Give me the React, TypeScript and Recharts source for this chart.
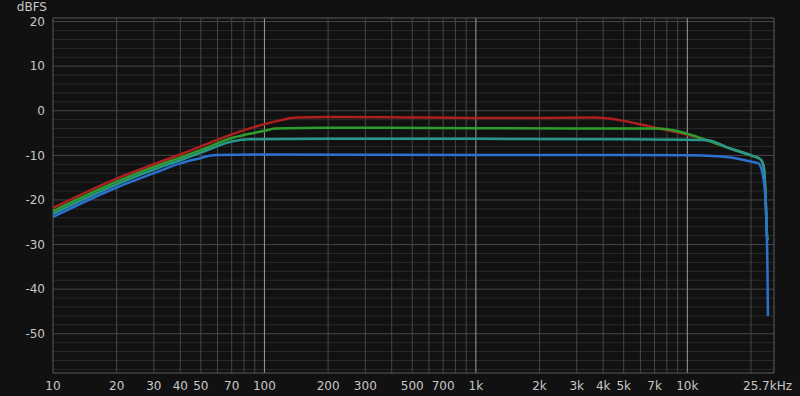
import { CartesianGrid, Line, LineChart, XAxis, YAxis } from "recharts";

// frequency (Hz) / level (dBFS) per channel
const redFreq = [10, 20, 30, 40, 50, 70, 100, 120, 142, 200, 500, 1000, 2000, 3670, 7200, 12400, 16000, 20000, 22200, 23000, 23400, 23850, 24000];
const redDb = [-21.8, -15.2, -12.0, -9.8, -8.0, -5.3, -3.0, -2.1, -1.5, -1.4, -1.5, -1.6, -1.6, -1.5, -3.9, -6.6, -8.5, -10.0, -10.9, -12.7, -18.0, -28.5, -29.0];

const greenFreq = [10, 20, 30, 40, 50, 70, 100, 112, 200, 1000, 3000, 7200, 12400, 16000, 20000, 22200, 23000, 23400, 23850, 24000];
const greenDb = [-22.5, -15.9, -12.6, -10.5, -8.8, -6.1, -4.5, -4.0, -3.8, -3.9, -4.0, -4.0, -6.6, -8.5, -10.0, -10.9, -12.7, -18.0, -28.5, -29.0];

const tealFreq = [10, 20, 30, 40, 50, 70, 85, 200, 1000, 5000, 12400, 16000, 20000, 22200, 23000, 23400, 23850, 24000];
const tealDb = [-23.1, -16.5, -13.2, -11.1, -9.4, -6.9, -6.4, -6.3, -6.3, -6.4, -6.6, -8.5, -10.0, -10.9, -12.7, -18.0, -28.5, -29.0];

const blueFreq = [10, 20, 30, 40, 50, 55, 60, 100, 1000, 5000, 10400, 16000, 20000, 21700, 23000, 23700, 23950, 24050];
const blueDb = [-23.8, -17.2, -14.0, -11.8, -10.6, -10.1, -9.9, -9.8, -9.9, -9.9, -10.0, -10.5, -11.4, -11.8, -15.7, -25.5, -36.7, -46.0];

const xTicks = [10, 20, 30, 40, 50, 70, 100, 200, 300, 500, 700, 1000, 2000, 3000, 4000, 5000, 7000, 10000, 25700];
const yTicks = [20, 10, 0, -10, -20, -30, -40, -50];

const xMinorGrid = [20, 30, 40, 50, 60, 70, 80, 90, 200, 300, 400, 500, 600, 700, 800, 900, 2000, 3000, 4000, 5000, 6000, 7000, 8000, 9000, 20000];
const xMajorGrid = [100, 1000, 10000];
const yMinorGrid = [-58, -56, -54, -52, -48, -46, -44, -42, -38, -36, -34, -32, -28, -26, -24, -22, -18, -16, -14, -12, -8, -6, -4, -2, 2, 4, 6, 8, 12, 14, 16, 18];
const yMajorGrid = [-50, -40, -30, -20, -10, 0, 10, 20];

const X_MIN = 10;
const X_MAX = 25700;
const Y_MIN = -58.8;
const Y_MAX = 20.8;

const toPoints = (freq: number[], db: number[]) => freq.map((f, i) => ({ f, db: db[i] }));

const fmtFreq = (v: number) => {
  if (v === 25700) return "25.7kHz";
  if (v >= 1000) return `${v / 1000}k`;
  return String(v);
};

function FreqTick(props: any) {
  const { x, y, payload } = props;
  const last = payload.value === 25700;
  return (
    <text
      x={last ? x + 18 : x}
      y={y}
      dy="0.71em"
      textAnchor={last ? "end" : "middle"}
      fill="#c8c8c8"
      fontSize={12}
    >
      {fmtFreq(payload.value)}
    </text>
  );
}

const series = [
  { name: "red", color: "#ae1f1f", data: toPoints(redFreq, redDb) },
  { name: "green", color: "#2e9c2e", data: toPoints(greenFreq, greenDb) },
  { name: "teal", color: "#27978a", data: toPoints(tealFreq, tealDb) },
  { name: "blue", color: "#2b72cf", data: toPoints(blueFreq, blueDb) },
];

export default function App() {
  return (
    <div
      style={{
        position: "absolute",
        left: 0,
        top: 0,
        width: 800,
        height: 396,
        background: "#111111",
        fontFamily: "'DejaVu Sans', sans-serif",
      }}
    >
      <div
        style={{
          position: "absolute",
          left: 0,
          top: 0,
          width: 47,
          textAlign: "right",
          fontSize: 12,
          lineHeight: "14px",
          color: "#c8c8c8",
        }}
      >
        dBFS
      </div>
      <LineChart width={800} height={396} margin={{ top: 18, right: 26, bottom: 0, left: 0 }}>
        <CartesianGrid
          stroke="#2a2a2a"
          horizontalValues={yMinorGrid}
          vertical={false}
        />
        <CartesianGrid
          stroke="#474747"
          horizontalValues={yMajorGrid}
          verticalValues={xMinorGrid}
        />
        <CartesianGrid stroke="#9c9c9c" horizontal={false} verticalValues={xMajorGrid} />
        <CartesianGrid
          stroke="#5a5a5a"
          horizontalValues={[Y_MIN, Y_MAX]}
          verticalValues={[X_MIN, X_MAX]}
        />
        <XAxis
          dataKey="f"
          type="number"
          scale="log"
          domain={[X_MIN, X_MAX]}
          allowDataOverflow
          ticks={xTicks}
          interval={0}
          tick={<FreqTick />}
          axisLine={false}
          tickLine={false}
          height={23}
        />
        <YAxis
          type="number"
          domain={[Y_MIN, Y_MAX]}
          allowDataOverflow
          ticks={yTicks}
          interval={0}
          tick={{ fill: "#c8c8c8", fontSize: 12 }}
          axisLine={false}
          tickLine={false}
          width={53}
        />
        {series.map((s) => (
          <Line
            key={s.name}
            data={s.data}
            dataKey="db"
            type="monotone"
            stroke={s.color}
            strokeWidth={2.5}
            dot={false}
            isAnimationActive={false}
          />
        ))}
      </LineChart>
    </div>
  );
}
